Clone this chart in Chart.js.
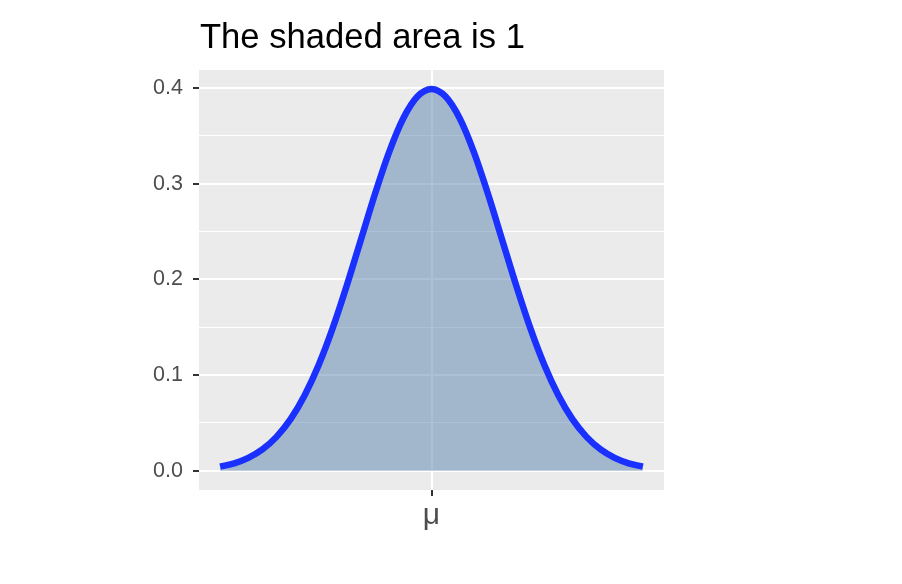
<!DOCTYPE html>
<html>
<head>
<meta charset="utf-8">
<script src="https://cdn.jsdelivr.net/npm/chart.js@4"></script>
<style>
  html, body { margin: 0; padding: 0; background: #ffffff; }
  #wrap { width: 902px; height: 584px; }
</style>
</head>
<body>
<div id="wrap"><canvas id="myChart" width="902" height="584"></canvas></div>
<script>
// values
const xs = [-3, -2.8, -2.6, -2.4, -2.2, -2, -1.8, -1.6, -1.4, -1.2, -1, -0.8, -0.6, -0.4, -0.2, 0,
            0.2, 0.4, 0.6, 0.8, 1, 1.2, 1.4, 1.6, 1.8, 2, 2.2, 2.4, 2.6, 2.8, 3];
const density = [0.0044, 0.0079, 0.0136, 0.0224, 0.0355, 0.0540, 0.0790, 0.1109, 0.1497, 0.1942, 0.2420,
                 0.2897, 0.3332, 0.3683, 0.3910, 0.3989, 0.3910, 0.3683, 0.3332, 0.2897, 0.2420,
                 0.1942, 0.1497, 0.1109, 0.0790, 0.0540, 0.0355, 0.0224, 0.0136, 0.0079, 0.0044];
const yTicks = [0, 0.05, 0.1, 0.15, 0.2, 0.25, 0.3, 0.35, 0.4];
const xTicks = [0];
const xTickLabels = ['μ'];
const titleText = 'The shaded area is 1';

const isMajor = v => Math.abs(v * 10 - Math.round(v * 10)) < 1e-6;

const panelBg = {
    id: 'panelBg',
    beforeDraw(chart) {
        const {ctx, chartArea: a} = chart;
        ctx.save();
        ctx.fillStyle = '#EBEBEB';
        ctx.fillRect(a.left, a.top, a.right - a.left, a.bottom - a.top);
        ctx.restore();
    },
    afterDraw(chart) {
        const ctx = chart.ctx;
        ctx.save();
        ctx.fillStyle = '#000000';
        ctx.font = '34.6px "Liberation Sans", Arial, sans-serif';
        ctx.textBaseline = 'alphabetic';
        ctx.fillText(titleText, 200, 48);
        ctx.restore();
    }
};

const ctx = document.getElementById('myChart').getContext('2d');

const chart = new Chart(ctx, {
    type: 'line',
    data: {
        datasets: [{
            data: xs.map((x, i) => ({x: x, y: density[i]})),
            borderColor: '#1A30FF',
            borderWidth: 6.5,
            backgroundColor: 'rgba(91, 131, 173, 0.5)',
            fill: 'origin',
            pointRadius: 0,
            tension: 0.4,
            cubicInterpolationMode: 'monotone',
            clip: false
        }]
    },
    plugins: [panelBg],
    options: {
        responsive: false,
        animation: false,
        events: [],
        layout: {
            padding: {left: 0, right: 238, top: 70, bottom: 0}
        },
        plugins: {
            legend: {display: false},
            tooltip: {enabled: false}
        },
        scales: {
            x: {
                type: 'linear',
                min: -3.3,
                max: 3.3,
                afterBuildTicks: s => { s.ticks = xTicks.map(v => ({value: v})); },
                afterFit: s => { s.height = 94; },
                border: {display: false},
                grid: {
                    color: '#FFFFFF',
                    lineWidth: 2,
                    tickColor: '#333333',
                    tickWidth: 2,
                    tickLength: 6
                },
                ticks: {
                    autoSkip: false,
                    maxRotation: 0,
                    padding: 2,
                    color: '#4D4D4D',
                    font: {family: '"Liberation Sans", Arial, sans-serif', size: 30},
                    callback: (v) => xTickLabels[xTicks.indexOf(v)] || ''
                }
            },
            y: {
                min: -0.02,
                max: 0.4188,
                afterBuildTicks: s => { s.ticks = yTicks.map(v => ({value: v})); },
                afterFit: s => { s.width = 199; },
                border: {display: false},
                grid: {
                    color: '#FFFFFF',
                    lineWidth: c => isMajor(c.tick.value) ? 2 : 1,
                    tickColor: c => isMajor(c.tick.value) ? '#333333' : 'rgba(0,0,0,0)',
                    tickWidth: 2,
                    tickLength: 6
                },
                ticks: {
                    autoSkip: false,
                    padding: 10,
                    color: '#4D4D4D',
                    font: {family: '"Liberation Sans", Arial, sans-serif', size: 21.5},
                    callback: v => isMajor(v) ? v.toFixed(1) : ''
                }
            }
        }
    }
});
</script>
</body>
</html>
